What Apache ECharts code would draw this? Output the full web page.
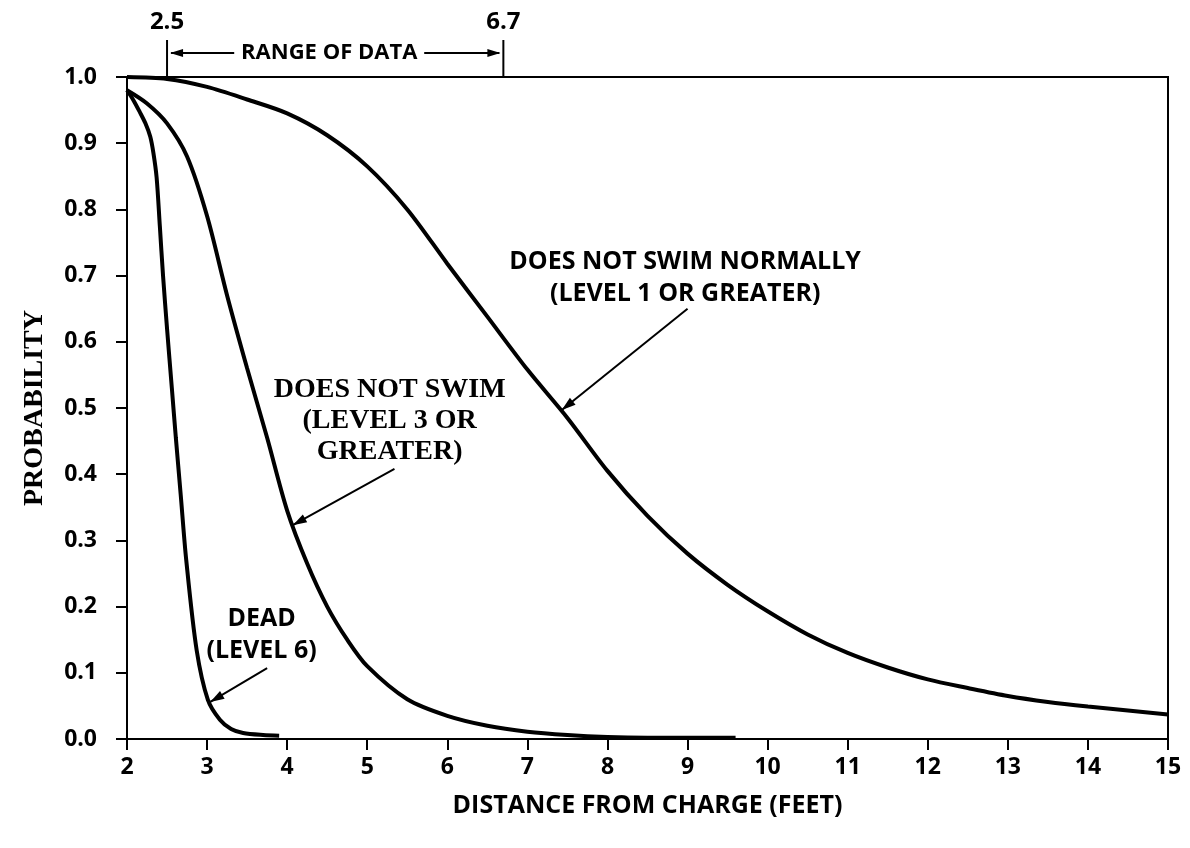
<!DOCTYPE html>
<html>
<head>
<meta charset="utf-8">
<title>Probability vs distance from charge</title>
<script src="https://cdn.jsdelivr.net/npm/echarts@6/dist/echarts.min.js"></script>
<style>
  html, body { margin: 0; padding: 0; background: #fff; }
  #chart { width: 1190px; height: 848px; }
</style>
</head>
<body>
<div id="chart"></div>
<script>
// Distance from charge (feet) and probability for each response level
const levelOneDist = [2.0, 2.5, 3.0, 3.5, 4.0, 4.5, 5.0, 5.5, 6.0, 6.5, 7.0, 7.5, 8.0, 8.5, 9.0, 9.5, 10.0, 10.5, 11.0, 11.5, 12.0, 12.5, 13.0, 13.5, 14.0, 14.5, 15.0];
const levelOneProb = [1.0, 0.997, 0.985, 0.966, 0.945, 0.912, 0.865, 0.800, 0.718, 0.638, 0.558, 0.485, 0.405, 0.337, 0.280, 0.233, 0.193, 0.158, 0.130, 0.108, 0.090, 0.077, 0.065, 0.056, 0.049, 0.043, 0.037];

const levelThreeDist = [2.0, 2.25, 2.5, 2.75, 3.0, 3.25, 3.5, 3.75, 4.0, 4.25, 4.5, 4.75, 5.0, 5.5, 6.0, 6.5, 7.0, 7.5, 8.0, 8.5, 9.0, 9.6];
const levelThreeProb = [0.98, 0.96, 0.93, 0.88, 0.79, 0.67, 0.56, 0.455, 0.345, 0.265, 0.200, 0.150, 0.110, 0.060, 0.035, 0.020, 0.011, 0.006, 0.003, 0.002, 0.002, 0.002];

const deadDist = [2.0, 2.08, 2.16, 2.23, 2.29, 2.33, 2.37, 2.41, 2.45, 2.5, 2.56, 2.61, 2.67, 2.74, 2.87, 3.01, 3.16, 3.3, 3.45, 3.7, 3.9];
const deadProb = [0.98, 0.965, 0.947, 0.93, 0.91, 0.885, 0.848, 0.775, 0.70, 0.62, 0.53, 0.455, 0.37, 0.27, 0.134, 0.059, 0.029, 0.015, 0.009, 0.006, 0.005];

// Range of data bounds marked above the plot
const rangeBounds = [2.5, 6.7];
const rangeText = 'RANGE OF DATA';

// Axis ticks
const xTicks = [2, 3, 4, 5, 6, 7, 8, 9, 10, 11, 12, 13, 14, 15];
const yTickStep = 0.1;

const zip = (xs, ys) => xs.map((x, i) => [x, ys[i]]);

// Curve call-outs: text block anchor and arrow tail/tip, in data units
const callouts = [
  { lines: ['DOES NOT SWIM NORMALLY', '(LEVEL 1 OR GREATER)'], at: [8.97, 0.697], tail: [9.0, 0.65], tip: [7.43, 0.497], serif: false },
  { lines: ['DOES NOT SWIM', '(LEVEL 3 OR', 'GREATER)'], at: [5.28, 0.48], tail: [5.34, 0.408], tip: [4.07, 0.323], serif: true },
  { lines: ['DEAD', '(LEVEL 6)'], at: [3.68, 0.157], tail: [3.75, 0.107], tip: [3.04, 0.056], serif: false }
];

const SANS = '"Open Sans", "Liberation Sans", sans-serif';
const SERIF = '"Liberation Serif", "DejaVu Serif", serif';

const chart = echarts.init(document.getElementById('chart'), null, { renderer: 'canvas' });

const curveStyle = { color: '#000', width: 4 };

chart.setOption({
  backgroundColor: '#fff',
  animation: false,
  grid: {
    left: 127, right: 22, top: 77, bottom: 109,
    show: true, borderColor: '#000', borderWidth: 2, backgroundColor: 'transparent'
  },
  xAxis: {
    type: 'value',
    min: xTicks[0], max: xTicks[xTicks.length - 1], interval: 1,
    name: 'DISTANCE FROM CHARGE (FEET)',
    nameLocation: 'middle', nameGap: 54,
    nameTextStyle: { fontFamily: SANS, fontWeight: 'bold', fontSize: 25, color: '#000' },
    axisLine: { show: true, lineStyle: { color: '#000', width: 2 } },
    axisTick: { show: true, inside: false, length: 11, lineStyle: { color: '#000', width: 2 } },
    axisLabel: { margin: 17, fontFamily: SANS, fontWeight: 'bold', fontSize: 23, color: '#000' },
    splitLine: { show: false }
  },
  yAxis: {
    type: 'value',
    min: 0, max: 1, interval: yTickStep,
    name: 'PROBABILITY',
    nameLocation: 'middle', nameGap: 78, nameRotate: 90,
    nameTextStyle: { fontFamily: SERIF, fontWeight: 'bold', fontSize: 28, color: '#000' },
    axisLine: { show: true, lineStyle: { color: '#000', width: 2 } },
    axisTick: { show: true, inside: false, length: 11, lineStyle: { color: '#000', width: 2 } },
    axisLabel: {
      margin: 30, fontFamily: SANS, fontWeight: 'bold', fontSize: 23, color: '#000',
      formatter: v => v.toFixed(1)
    },
    splitLine: { show: false }
  },
  series: [
    { name: 'Level 1 or greater', type: 'line', data: zip(levelOneDist, levelOneProb), showSymbol: false, smooth: 0.3, lineStyle: curveStyle },
    { name: 'Level 3 or greater', type: 'line', data: zip(levelThreeDist, levelThreeProb), showSymbol: false, smooth: 0.3, lineStyle: curveStyle },
    { name: 'Dead (level 6)', type: 'line', data: zip(deadDist, deadProb), showSymbol: false, smooth: 0.3, lineStyle: curveStyle }
  ]
});

// Pixel helper through the grid's own scales
const px = (pt) => chart.convertToPixel({ gridIndex: 0 }, pt);

function arrowHead(tip, from, len, half) {
  const dx = tip[0] - from[0], dy = tip[1] - from[1];
  const d = Math.hypot(dx, dy) || 1;
  const ux = dx / d, uy = dy / d;
  const bx = tip[0] - ux * len, by = tip[1] - uy * len;
  return {
    type: 'polygon',
    shape: { points: [tip, [bx - uy * half, by + ux * half], [bx + uy * half, by - ux * half]] },
    style: { fill: '#000' }
  };
}

const graphics = [];

// Range of data marker above the plot
const plotTop = px([2, 1])[1];
const leftX = px([rangeBounds[0], 1])[0];
const rightX = px([rangeBounds[1], 1])[0];
const arrowY = plotTop - 24;
rangeBounds.forEach((b, i) => {
  const x = i === 0 ? leftX : rightX;
  graphics.push({ type: 'line', shape: { x1: x, y1: plotTop, x2: x, y2: plotTop - 37 }, style: { stroke: '#000', lineWidth: 2 } });
  graphics.push({
    type: 'text', x: x, y: plotTop - 55,
    style: { text: String(b), fontFamily: SANS, fontWeight: 'bold', fontSize: 24, fill: '#000', align: 'center', verticalAlign: 'middle' }
  });
});
const textMid = (leftX + rightX) / 2 - 6;
graphics.push({
  type: 'text', x: textMid, y: arrowY,
  style: { text: rangeText, fontFamily: SANS, fontWeight: 'bold', fontSize: 22, fill: '#000', align: 'center', verticalAlign: 'middle' }
});
const halfText = 95;
graphics.push({ type: 'line', shape: { x1: leftX + 4, y1: arrowY, x2: textMid - halfText, y2: arrowY }, style: { stroke: '#000', lineWidth: 2 } });
graphics.push(arrowHead([leftX + 3, arrowY], [leftX + 20, arrowY], 13, 4));
graphics.push({ type: 'line', shape: { x1: textMid + halfText, y1: arrowY, x2: rightX - 4, y2: arrowY }, style: { stroke: '#000', lineWidth: 2 } });
graphics.push(arrowHead([rightX - 3, arrowY], [rightX - 20, arrowY], 13, 4));

// Curve call-outs
callouts.forEach(c => {
  const p = px(c.at);
  graphics.push({
    type: 'text', x: p[0], y: p[1],
    style: {
      text: c.lines.join('\n'),
      fontFamily: c.serif ? SERIF : SANS,
      fontWeight: 'bold',
      fontSize: c.serif ? 28 : 25,
      lineHeight: c.serif ? 31 : 32,
      fill: '#000', align: 'center', verticalAlign: 'middle'
    }
  });
  const a = px(c.tail), b = px(c.tip);
  graphics.push({ type: 'line', shape: { x1: a[0], y1: a[1], x2: b[0], y2: b[1] }, style: { stroke: '#000', lineWidth: 2 } });
  graphics.push(arrowHead(b, a, 14, 4.5));
});

chart.setOption({ graphic: graphics });
</script>
</body>
</html>
